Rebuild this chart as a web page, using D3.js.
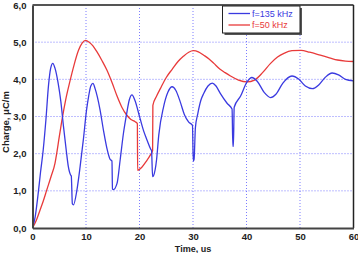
<!DOCTYPE html>
<html>
<head>
<meta charset="utf-8">
<script src="https://cdn.jsdelivr.net/npm/d3@7"></script>
<style>
  body { margin: 0; background: #fff; }
  svg { display: block; }
</style>
</head>
<body>
<div id="chart"></div>
<script>
// f=135 kHz series (time in us, charge in uC/m)
var blueX = [0, 0.5, 1.0, 1.5, 2.0, 2.5, 3.0, 3.4, 3.8, 4.2, 4.8, 5.3, 5.8, 6.3, 6.7, 7.15, 7.25, 7.45, 7.65, 8.3,
    8.9, 9.5, 10.1, 10.5, 10.9, 11.3, 11.7, 12.6, 13.3, 13.9, 14.5, 14.85, 14.95, 15.1, 15.8, 16.4, 17.0, 17.6, 18.1, 18.6,
    19.1, 20.1, 20.8, 21.4, 22.1, 22.25, 22.45, 22.6, 23.2, 23.6, 24.5, 25.3, 26.1, 26.8, 27.6, 28.4, 29.2, 29.9, 30.05, 30.2,
    30.45, 30.9, 31.5, 32.0, 32.8, 33.6, 34.3, 35.1, 36.4, 37.3, 37.45, 37.55, 37.7, 38.9, 40.1, 41.0, 42.0, 43.3, 44.5, 45.5,
    46.8, 48.5, 49.8, 51.0, 52.3, 53.5, 54.7, 56.0, 57.2, 58.5, 60];
var blueY = [0, 0.3, 0.85, 1.5, 2.1, 2.9, 3.85, 4.3, 4.43, 4.3, 3.89, 3.4, 2.72, 2.1, 1.65, 1.42, 1.4, 0.65, 0.62, 1.02,
    1.65, 2.37, 3.17, 3.55, 3.82, 3.89, 3.75, 3.2, 2.6, 2.15, 1.85, 1.8, 1.05, 1.03, 1.2, 1.85, 2.55, 3.08, 3.45, 3.58,
    3.45, 2.95, 2.6, 2.37, 2.12, 2.08, 1.38, 1.4, 1.85, 2.5, 3.26, 3.65, 3.8, 3.7, 3.4, 3.05, 2.85, 2.76, 1.8, 1.85,
    2.7, 3.08, 3.45, 3.62, 3.82, 3.9, 3.82, 3.62, 3.35, 3.2, 2.2, 2.2, 3.25, 3.55, 3.93, 4.05, 3.95, 3.65, 3.51, 3.6,
    3.9, 4.09, 4.0, 3.82, 3.75, 3.85, 4.05, 4.17, 4.12, 4.0, 3.96];

// f=50 kHz series
var redX = [0, 0.7, 1.4, 2.0, 2.66, 3.5, 4.2, 4.4, 5.0, 5.5, 6.2, 7.0, 7.7, 8.6, 9.3, 9.9, 10.6, 11.3, 12.0, 13.0,
    13.9, 14.9, 15.8, 16.7, 17.6, 18.4, 19.2, 19.6, 19.65, 20.4, 21.3, 22.1, 22.45, 22.5, 23.2, 23.9, 25.0, 26.1, 27.2, 28.2,
    29.2, 30.1, 31.0, 32.0, 33.0, 33.9, 35.0, 36.0, 37.0, 38.5, 40.1, 41.5, 43.0, 44.5, 45.8, 47.0, 48.5, 50.2, 51.8, 53.8,
    55.5, 57.0, 58.5, 60];
var redY = [0, 0.2, 0.48, 0.72, 1.02, 1.4, 1.74, 1.9, 2.45, 2.9, 3.45, 3.95, 4.35, 4.78, 4.98, 5.05, 5.0, 4.9, 4.75, 4.5,
    4.25, 3.9, 3.55, 3.25, 3.04, 2.92, 2.86, 2.81, 1.55, 1.63, 1.8, 1.98, 2.08, 3.3, 3.55, 3.75, 4.05, 4.27, 4.48, 4.62,
    4.73, 4.77, 4.74, 4.65, 4.55, 4.43, 4.28, 4.18, 4.09, 3.98, 3.93, 3.98, 4.18, 4.43, 4.6, 4.7, 4.77, 4.78, 4.73, 4.65,
    4.58, 4.52, 4.49, 4.48];

var xTicks = [0, 10, 20, 30, 40, 50, 60];
var yTicks = [0, 1, 2, 3, 4, 5, 6];
var seriesNames = ["f=135 kHz", "f=50 kHz"];
var seriesColors = ["#3a3ae0", "#e83a3a"];

var W = 358, H = 253;
var margin = {top: 5, right: 4.5, bottom: 25, left: 32.5};
var w = W - margin.left - margin.right;
var h = H - margin.top - margin.bottom;

var svg = d3.select("#chart").append("svg")
    .attr("width", W)
    .attr("height", H);

var g = svg.append("g")
    .attr("transform", "translate(" + margin.left + "," + margin.top + ")");

var x = d3.scaleLinear().domain([0, 60]).range([0, w]);
var y = d3.scaleLinear().domain([0, 6]).range([h, 0]);

// dotted grid
g.append("g").selectAll("line").data(xTicks.slice(1, -1)).enter().append("line")
    .attr("x1", function (d) { return x(d); })
    .attr("x2", function (d) { return x(d); })
    .attr("y1", 0).attr("y2", h)
    .attr("stroke", "#5a5aff").attr("stroke-width", 0.8)
    .attr("stroke-dasharray", "1,2");

g.append("g").selectAll("line").data(yTicks.slice(1, -1)).enter().append("line")
    .attr("y1", function (d) { return y(d); })
    .attr("y2", function (d) { return y(d); })
    .attr("x1", 0).attr("x2", w)
    .attr("stroke", "#5a5aff").attr("stroke-width", 0.8)
    .attr("stroke-dasharray", "1,2");

// curves
var line = d3.line()
    .x(function (d) { return x(d[0]); })
    .y(function (d) { return y(d[1]); })
    .curve(d3.curveMonotoneX);

var blue = d3.zip(blueX, blueY);
var red = d3.zip(redX, redY);

g.append("path").datum(red)
    .attr("d", line)
    .attr("fill", "none")
    .attr("stroke", seriesColors[1])
    .attr("stroke-width", 1.3);

g.append("path").datum(blue)
    .attr("d", line)
    .attr("fill", "none")
    .attr("stroke", seriesColors[0])
    .attr("stroke-width", 1.3);

// frame
g.append("line").attr("x1", 0).attr("x2", w).attr("y1", 0).attr("y2", 0)
    .attr("stroke", "#555").attr("stroke-width", 2);
g.append("line").attr("x1", w).attr("x2", w).attr("y1", 0).attr("y2", h)
    .attr("stroke", "#222").attr("stroke-width", 1.5);

// axes
var xAxis = g.append("g")
    .attr("transform", "translate(0," + h + ")")
    .call(d3.axisBottom(x).tickValues(xTicks).tickSize(0).tickPadding(5).tickFormat(d3.format("d")));
var yAxis = g.append("g")
    .call(d3.axisLeft(y).tickValues(yTicks).tickSize(0).tickPadding(6)
        .tickFormat(function (d) { return d.toFixed(1).replace(".", ","); }));

[xAxis, yAxis].forEach(function (a) {
    a.select(".domain").attr("stroke", "#444").attr("stroke-width", 2);
    a.selectAll("text")
        .attr("fill", "#222")
        .style("font-family", "'Liberation Sans', Arial, sans-serif")
        .style("font-size", "9.5px")
        .style("font-weight", "bold");
});

// axis titles
svg.append("text")
    .attr("x", margin.left + w / 2)
    .attr("y", 251.5)
    .attr("text-anchor", "middle")
    .style("font-family", "'Liberation Sans', Arial, sans-serif")
    .style("font-size", "9px")
    .style("font-weight", "bold")
    .attr("fill", "#222")
    .text("Time, us");

svg.append("text")
    .attr("transform", "translate(8.5,122) rotate(-90)")
    .attr("text-anchor", "middle")
    .style("font-family", "'Liberation Sans', Arial, sans-serif")
    .style("font-size", "9.5px")
    .style("font-weight", "bold")
    .attr("fill", "#222")
    .text("Charge, \u03bcC/m");

// legend
var lg = svg.append("g").attr("transform", "translate(222.5,6)");
lg.append("rect").attr("x", 2).attr("y", 2).attr("width", 77.5).attr("height", 27)
    .attr("fill", "#555");
lg.append("rect").attr("x", 0).attr("y", 0).attr("width", 77.5).attr("height", 27)
    .attr("fill", "#fff").attr("stroke", "#222").attr("stroke-width", 1);

var items = lg.selectAll(".item").data(seriesNames).enter().append("g")
    .attr("transform", function (d, i) { return "translate(0," + (7.5 + i * 11.5) + ")"; });
items.append("line")
    .attr("x1", 6).attr("x2", 27.5).attr("y1", 0).attr("y2", 0)
    .attr("stroke", function (d, i) { return seriesColors[i]; })
    .attr("stroke-width", 1.3);
items.append("text")
    .attr("x", 29.5).attr("y", 3.2)
    .style("font-family", "'Liberation Sans', Arial, sans-serif")
    .style("font-size", "9px")
    .attr("fill", function (d, i) { return seriesColors[i]; })
    .text(function (d) { return d; });
</script>
</body>
</html>
